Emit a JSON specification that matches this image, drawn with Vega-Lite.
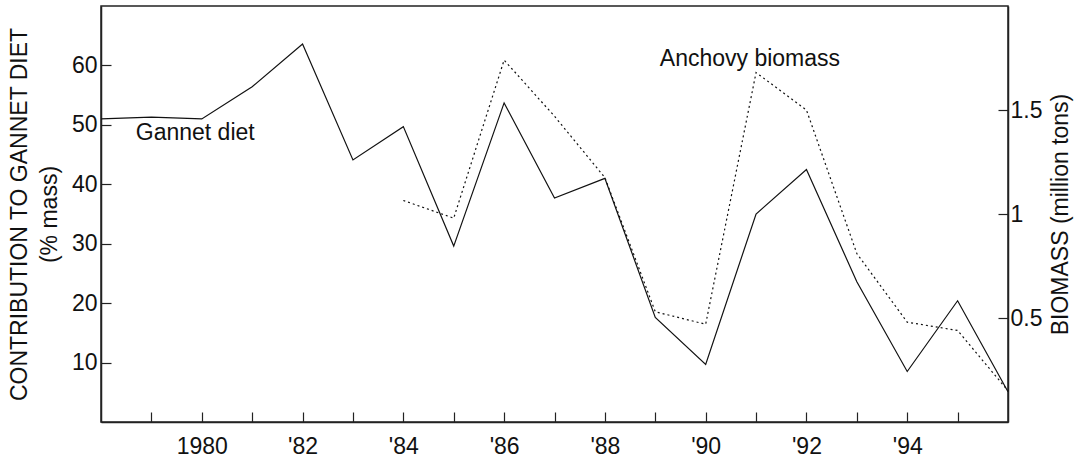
{
  "$schema": "https://vega.github.io/schema/vega-lite/v6.json",
  "width": 907,
  "height": 416,
  "autosize": {"type": "none"},
  "padding": {"left": 101, "top": 6, "right": 70, "bottom": 37},
  "background": "white",
  "config": {
    "font": "Liberation Sans",
    "view": {"stroke": "#222", "strokeWidth": 1.5},
    "axis": {
      "grid": false,
      "domainColor": "#222",
      "domainWidth": 1.5,
      "tickColor": "#222",
      "tickWidth": 1.2,
      "labelColor": "#111",
      "titleColor": "#111",
      "labelFontSize": 23,
      "titleFontSize": 23,
      "titleFontWeight": "normal",
      "labelFont": "Liberation Sans",
      "titleFont": "Liberation Sans"
    }
  },
  "data": {
    "values": [
      {"year": 1978, "gannet": 51.0, "anchovy": null},
      {"year": 1979, "gannet": 51.3, "anchovy": null},
      {"year": 1980, "gannet": 51.0, "anchovy": null},
      {"year": 1981, "gannet": 56.4, "anchovy": null},
      {"year": 1982, "gannet": 63.6, "anchovy": null},
      {"year": 1983, "gannet": 44.1, "anchovy": null},
      {"year": 1984, "gannet": 49.7, "anchovy": 1.065},
      {"year": 1985, "gannet": 29.6, "anchovy": 0.98},
      {"year": 1986, "gannet": 53.7, "anchovy": 1.74},
      {"year": 1987, "gannet": 37.7, "anchovy": 1.47},
      {"year": 1988, "gannet": 41.0, "anchovy": 1.175},
      {"year": 1989, "gannet": 17.6, "anchovy": 0.53},
      {"year": 1990, "gannet": 9.7, "anchovy": 0.47},
      {"year": 1991, "gannet": 35.0, "anchovy": 1.68},
      {"year": 1992, "gannet": 42.5, "anchovy": 1.5},
      {"year": 1993, "gannet": 23.6, "anchovy": 0.81},
      {"year": 1994, "gannet": 8.5, "anchovy": 0.48},
      {"year": 1995, "gannet": 20.4, "anchovy": 0.44},
      {"year": 1996, "gannet": 5.1, "anchovy": 0.15}
    ]
  },
  "encoding": {
    "x": {
      "field": "year",
      "type": "quantitative",
      "scale": {"domain": [1978, 1996], "nice": false, "zero": false},
      "axis": {
        "title": null,
        "values": [1979,1980,1981,1982,1983,1984,1985,1986,1987,1988,1989,1990,1991,1992,1993,1994,1995],
        "tickSize": -10,
        "labelPadding": 23,
        "labelExpr": "datum.value == 1980 ? '1980' : (datum.value % 2 == 0 ? \"'\" + slice(toString(datum.value), 2) : '')",
        "labelFlush": false,
        "labelOverlap": false
      }
    }
  },
  "layer": [
    {
      "layer": [
        {
          "mark": {"type": "line", "color": "#111", "strokeWidth": 1.2},
          "encoding": {
            "y": {
              "field": "gannet",
              "type": "quantitative",
              "scale": {"domain": [0, 70], "nice": false},
              "axis": {
                "title": ["CONTRIBUTION TO GANNET DIET", "(% mass)"],
                "values": [10, 20, 30, 40, 50, 60],
                "tickSize": -10,
                "labelPadding": 14,
                "titlePadding": 10,
                "titleLineHeight": 30
              }
            }
          }
        },
        {
          "data": {
            "values": [
              {"year": 1978.69, "gannet": 47.5, "label": "Gannet diet"},
              {"year": 1989.09, "gannet": 59.9, "label": "Anchovy biomass"}
            ]
          },
          "mark": {"type": "text", "align": "left", "baseline": "alphabetic", "fontSize": 23, "color": "#111"},
          "encoding": {
            "text": {"field": "label", "type": "nominal"},
            "y": {"field": "gannet", "type": "quantitative"}
          }
        }
      ]
    },
    {
      "mark": {"type": "line", "color": "#111", "strokeWidth": 1.2, "strokeDash": [2, 3]},
      "encoding": {
        "y": {
          "field": "anchovy",
          "type": "quantitative",
          "scale": {"domain": [0, 2], "nice": false},
          "axis": {
            "orient": "right",
            "title": "BIOMASS (million tons)",
            "titleAngle": -90,
            "values": [0.5, 1, 1.5],
            "format": "~g",
            "tickSize": -10,
            "labelPadding": 12,
            "titlePadding": 31
          }
        }
      }
    }
  ],
  "resolve": {"scale": {"y": "independent"}}
}
